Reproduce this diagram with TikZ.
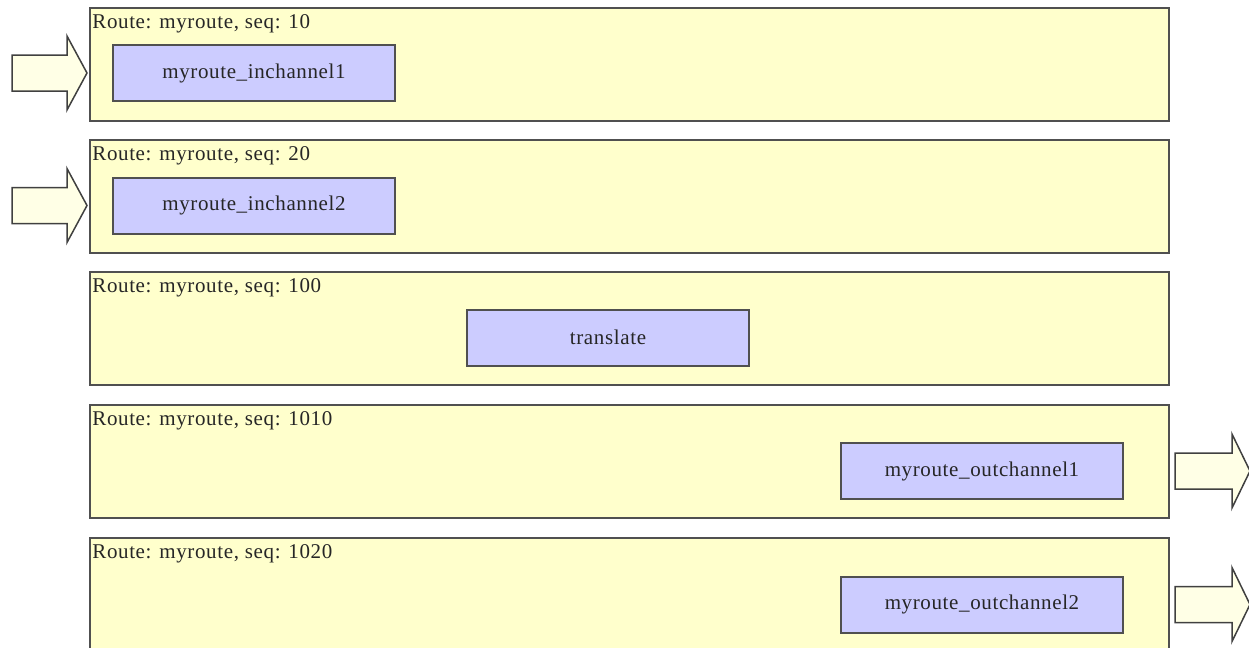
\documentclass[tikz,border=0pt]{standalone}
\usepackage{fontspec}
\setmainfont{Liberation Serif}[LetterSpace=3]
\usepackage{xcolor}
\usetikzlibrary{positioning,calc}

\definecolor{routefill}{HTML}{FFFFCC}
\definecolor{chanfill}{HTML}{CCCCFF}
\definecolor{arrowfill}{HTML}{FFFFE6}
\definecolor{edgegray}{HTML}{505050}

\tikzset{
  routebox/.style={draw=edgegray, line width=1pt, fill=routefill,
    minimum width=539.5pt, minimum height=56.5pt, inner sep=0pt},
  chanbox/.style={draw=edgegray, line width=1pt, fill=chanfill,
    minimum width=141pt, minimum height=28pt, inner sep=0pt},
  routelabel/.style={anchor=base west, inner sep=0pt},
  blockarrow/.style={draw=black!75, line width=0.75pt, fill=arrowfill},
}

\begin{document}
\begin{tikzpicture}[x=0.5pt, y=-0.5pt, font=\fontsize{10.5}{12}\selectfont, text=black!85]
\clip (0,0) rectangle (1249,648);

% Route boxes
\node[routebox] (r10)   at (629.5,64.5)  {};
\node[routebox] (r20)   at (629.5,196.5) {};
\node[routebox] (r100)  at (629.5,328.5) {};
\node[routebox] (r1010) at (629.5,461.5) {};
\node[routebox] (r1020) at (629.5,594.5) {};

% Titles
\node[routelabel] (t10)   at ($(r10.north west)+(3,21)$)   {Route: myroute, seq: 10};
\node[routelabel] (t20)   at ($(r20.north west)+(3,21)$)   {Route: myroute, seq: 20};
\node[routelabel] (t100)  at ($(r100.north west)+(3,21)$)  {Route: myroute, seq: 100};
\node[routelabel] (t1010) at ($(r1010.north west)+(3,21)$) {Route: myroute, seq: 1010};
\node[routelabel] (t1020) at ($(r1020.north west)+(3,21)$) {Route: myroute, seq: 1020};

% Channels and processors
\node[chanbox] (in1)   at (254,73)    {myroute\_inchannel1};
\node[chanbox] (in2)   at (254,205.5) {myroute\_inchannel2};
\node[chanbox] (trans) at (608,337.5) {translate};
\node[chanbox] (out1)  at (982,471)   {myroute\_outchannel1};
\node[chanbox] (out2)  at (982,604.5) {myroute\_outchannel2};

% Incoming arrows
\draw[blockarrow] ($(in1 -| r10.west)+(-2,0)$) -- ++(-20,-37) -- ++(0,19) -- ++(-55,0)
  -- ++(0,36) -- ++(55,0) -- ++(0,19) -- cycle;
\draw[blockarrow] ($(in2 -| r20.west)+(-2,0)$) -- ++(-20,-37) -- ++(0,19) -- ++(-55,0)
  -- ++(0,36) -- ++(55,0) -- ++(0,19) -- cycle;

% Outgoing arrows
\draw[blockarrow] ($(out1 -| r1010.east)+(5,0)$) -- ++(0,-18) -- ++(57,0) -- ++(0,-19)
  -- ++(18,37) -- ++(-18,37) -- ++(0,-19) -- ++(-57,0) -- cycle;
\draw[blockarrow] ($(out2 -| r1020.east)+(5,0)$) -- ++(0,-18) -- ++(57,0) -- ++(0,-19)
  -- ++(18,37) -- ++(-18,37) -- ++(0,-19) -- ++(-57,0) -- cycle;
\end{tikzpicture}
\end{document}
